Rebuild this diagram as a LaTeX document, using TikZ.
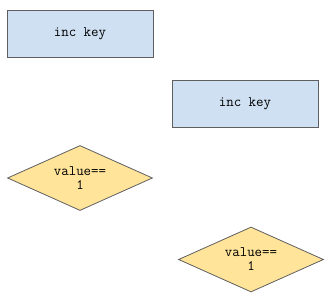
\documentclass[tikz,border=0pt]{standalone}
\usetikzlibrary{shapes.geometric}
\definecolor{stepblue}{HTML}{CEE0F2}
\definecolor{testyellow}{HTML}{FFE49A}
\definecolor{shapeline}{HTML}{5F5F5F}
\begin{document}
\begin{tikzpicture}[
  x=1pt, y=-1pt,
  stepbox/.style={
    draw=shapeline,
    fill=stepblue,
    line width=0.8pt,
    minimum width=146pt,
    minimum height=47pt,
    inner sep=0pt,
    font=\ttfamily\fontsize{14.5}{14}\selectfont
  },
  testbox/.style={
    diamond,
    shape aspect=2.2,
    draw=shapeline,
    fill=testyellow,
    line width=0.8pt,
    minimum width=145pt,
    minimum height=65pt,
    inner sep=0pt,
    align=center,
    font=\ttfamily\fontsize{14.5}{14}\selectfont
  }
]
  \useasboundingbox[fill=white] (0,0) rectangle (329,304);
  \node[stepbox] (inc1) at (80,33.5) {inc key};
  \node[stepbox] (inc2) at (245,103.5) {inc key};
  \node[testbox] (val1) at (80,178) {value==\\1};
  \node[testbox] (val2) at (251,259.5) {value==\\1};
\end{tikzpicture}
\end{document}
